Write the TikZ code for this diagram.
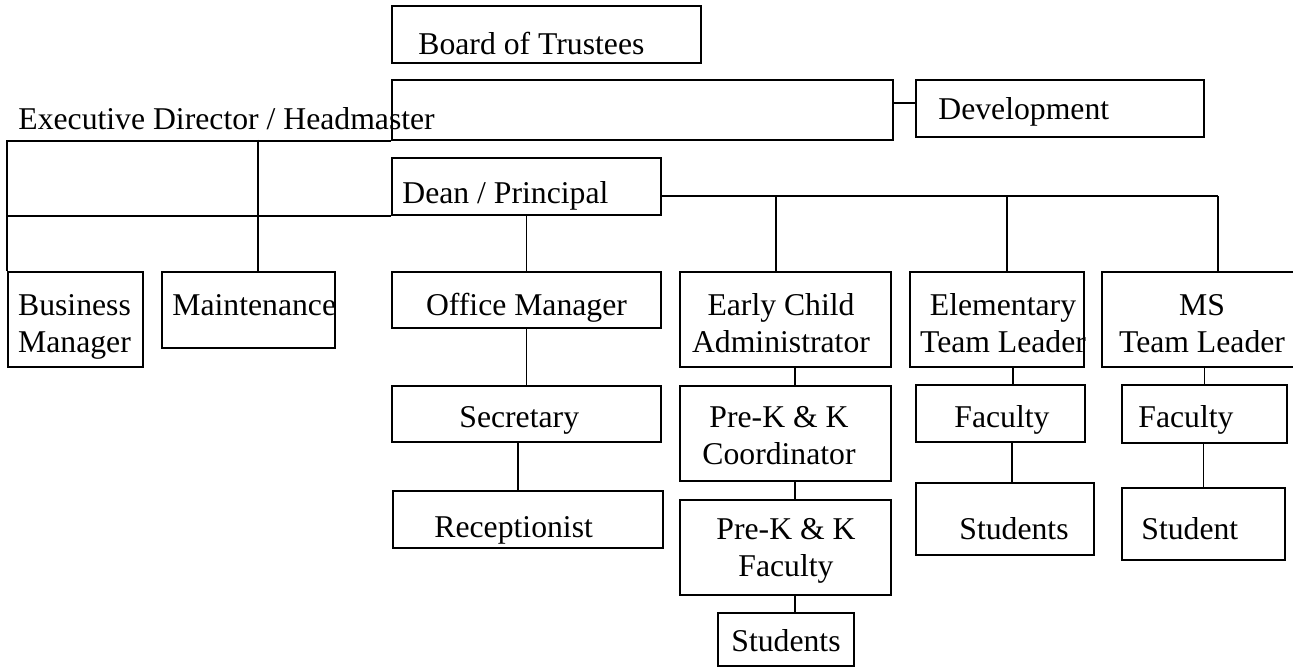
\documentclass[tikz,border=0pt]{standalone}
\usepackage{fontspec}
\setmainfont{Liberation Serif}
\usepackage{tikz}

\tikzset{
    box/.style 2 args={draw, line width=1pt, minimum width=#1*0.5pt, minimum height=#2*0.5pt, inner sep=0pt},
    txt/.style={inner sep=0pt, font=\fontsize{15.85}{18.5}\selectfont},
    link/.style={line width=0.9pt}
}

\begin{document}
\begin{tikzpicture}[x=0.5pt,y=-0.5pt]
            \useasboundingbox (0,0) rectangle (1293,668);
            \clip (0,0) rectangle (1293,668);

            %%% BOXES %%%
            \node[box={309}{57}] (board) at (546.5,34.5) {};
            \node[box={501}{60}] (exec) at (642.5,110) {};
            \node[box={288}{57}] (dev) at (1060,108.5) {};
            \node[box={269}{57}] (dean) at (526.5,186.5) {};
            \node[box={135}{95}] (biz) at (75.5,319.5) {};
            \node[box={173}{76}] (mnt) at (248.5,310) {};
            \node[box={269}{56}] (office) at (526.5,300) {};
            \node[box={211}{95}] (early) at (785.5,319.5) {};
            \node[box={174}{95}] (elem) at (997,319.5) {};
            \node[box={208}{95}] (ms) at (1206,319.5) {};
            \node[box={269}{56}] (sec) at (526.5,414) {};
            \node[box={270}{57}] (recep) at (528,519.5) {};
            \node[box={211}{95}] (coord) at (785.5,433.5) {};
            \node[box={211}{95}] (pkfac) at (785.5,547.5) {};
            \node[box={136}{53}] (stud1) at (786,639.5) {};
            \node[box={169}{57}] (fac2) at (1000.5,413.5) {};
            \node[box={178}{72}] (stud2) at (1005,519) {};
            \node[box={165}{58}] (fac3) at (1204.5,414) {};
            \node[box={163}{72}] (stud3) at (1203.5,524) {};

            %%% TEXTS %%%
            % two-line texts sit on the baseline of their last line
            \node[txt,anchor=base west] (boardtxt) at (418,55) {Board of Trustees};
            \node[txt,anchor=base west] (exectxt) at (18,130) {Executive Director / Headmaster};
            \node[txt,anchor=base west] (devtxt) at (938,120) {Development};
            \node[txt,anchor=base west] (deantxt) at (402,204) {Dean / Principal};
            \node[txt,anchor=base,align=center] (biztxt) at (74.5,352) {Business\\Manager};
            \node[txt,anchor=base west] (mnttxt) at (172,315) {Maintenance};
            \node[txt,anchor=base] (officetxt) at (526.5,315) {Office Manager};
            \node[txt,anchor=base,align=center] (earlytxt) at (781,352) {Early Child\\Administrator};
            \node[txt,anchor=base,align=center] (elemtxt) at (1003,352) {Elementary\\Team Leader};
            \node[txt,anchor=base,align=center] (mstxt) at (1202,352) {MS\\Team Leader};
            \node[txt,anchor=base west] (sectxt) at (459,427) {Secretary};
            \node[txt,anchor=base west] (receptxt) at (434,537) {Receptionist};
            \node[txt,anchor=base,align=center] (coordtxt) at (779,464) {Pre-K \& K\\Coordinator};
            \node[txt,anchor=base,align=center] (pkfactxt) at (786,576) {Pre-K \& K\\Faculty};
            \node[txt,anchor=base west] (stud1txt) at (731,651) {Students};
            \node[txt,anchor=base west] (fac2txt) at (954,427) {Faculty};
            \node[txt,anchor=base west] (stud2txt) at (959,539) {Students};
            \node[txt,anchor=base west] (fac3txt) at (1138,427) {Faculty};
            \node[txt,anchor=base west] (stud3txt) at (1141,539) {Student};

            %%% COORDINATES %%%
            \coordinate (m1) at (258,140);
            \coordinate (j1) at (776,196);
            \coordinate (j2) at (1007,196);
            \coordinate (j3) at (1218,196);

            %%% LINES %%%
            \draw[link] (exec.east) ++(0,-7) coordinate (d1) -- (d1 -| dev.west);
            \draw[link] (exec.south west) -| (biz.north west);
            \draw[link] (m1) -- (m1 |- mnt.north);
            \draw[link] (dean.south west) -- (dean.south west -| biz.west);
            \draw[link] (dean.south) -- (office.north);
            \draw[link] (dean.east |- j1) -- (j3);
            \foreach \j/\n in {j1/early, j2/elem, j3/ms}
                \draw[link] (\j) -- (\j |- \n.north);
            \draw[link] (office.south) -- (sec.north);
            \draw[link] (sec.south) ++(-8.5,0) coordinate (s1) -- (s1 |- recep.north);
            \draw[link] (early.south) ++(9.5,0) coordinate (c1) -- (c1 |- coord.north);
            \draw[link] (coord.south) ++(9.5,0) coordinate (c2) -- (c2 |- pkfac.north);
            \draw[link] (pkfac.south) ++(9.5,0) coordinate (c3) -- (c3 |- stud1.north);
            \draw[link] (elem.south) ++(16,0) coordinate (e1) -- (e1 |- fac2.north);
            \draw[link] (fac2.south) ++(11.5,0) coordinate (e2) -- (e2 |- stud2.north);
            \draw[link] (fac3.north) -- (fac3.north |- ms.south);
            \draw[link] (stud3.north) -- (stud3.north |- fac3.south);
        \end{tikzpicture}
\end{document}
